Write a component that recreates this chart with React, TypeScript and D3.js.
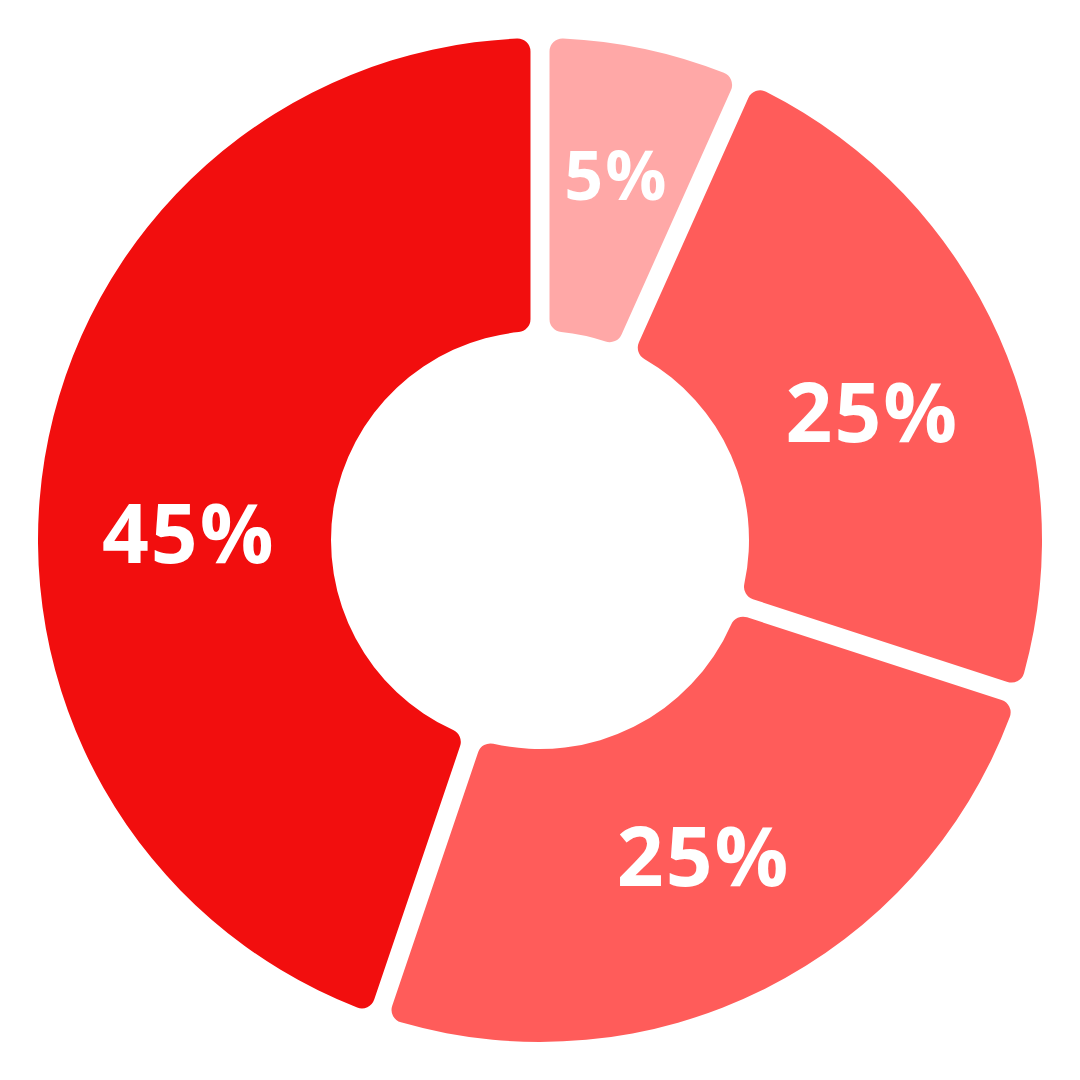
import React from "react";
import * as d3 from "d3";

const categories = ["A", "B", "C", "D"];
const shares = [6.7, 23.3, 25.2, 44.8];
const labels = ["5%", "25%", "25%", "45%"];
const colors = ["#FFA8A7", "#FF5C5A", "#FF5C5A", "#F20E0E"];

const W = 1080;
const H = 1080;
const cx = 540;
const cy = 540;
const outerR = 502;
const innerR = 209;
const labelR = 356;
// label nudges (dx, dy to baseline) and font sizes
const nudges: [number, number][] = [
  [2, 8],
  [7, 46],
  [4, 28],
  [0, 81],
];
const fontSizes = [68, 82, 82, 82];

export default function App() {
  const pie = d3
    .pie<number>()
    .sort(null)
    .value((d) => d);
  const arcs = pie(shares);
  const arc = d3
    .arc<d3.PieArcDatum<number>>()
    .innerRadius(innerR)
    .outerRadius(outerR)
    .padAngle(0.035)
    .cornerRadius(13);
  const labelArc = d3
    .arc<d3.PieArcDatum<number>>()
    .innerRadius(labelR)
    .outerRadius(labelR);

  return (
    <svg
      width={W}
      height={H}
      style={{ position: "absolute", left: 0, top: 0, background: "#fff" }}
    >
      <g transform={`translate(${cx},${cy})`}>
        {arcs.map((a, i) => (
          <path key={categories[i]} d={arc(a) || ""} fill={colors[i]} />
        ))}
        {arcs.map((a, i) => {
          const [x, y] = labelArc.centroid(a);
          return (
            <text
              key={"l" + categories[i]}
              x={x + nudges[i][0]}
              y={y + nudges[i][1]}
              textAnchor="middle"
              fill="#fff"
              fontFamily="'Open Sans', sans-serif"
              fontWeight={700}
              fontSize={fontSizes[i]}
              letterSpacing={2}
            >
              {labels[i]}
            </text>
          );
        })}
      </g>
    </svg>
  );
}
